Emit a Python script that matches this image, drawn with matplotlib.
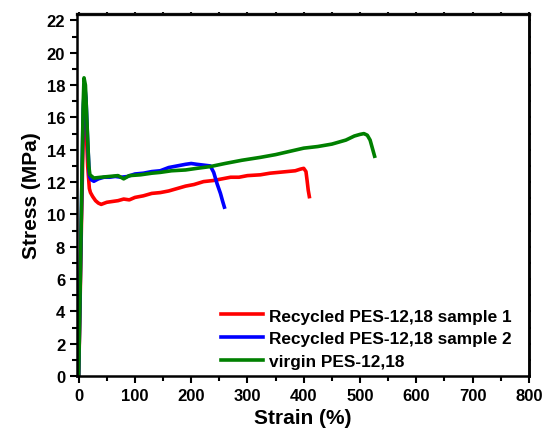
import matplotlib.pyplot as plt
from matplotlib.ticker import MultipleLocator

plt.rcParams['font.family'] = 'Liberation Sans'
plt.rcParams['font.weight'] = 'bold'

# strain (%) / stress (MPa)
strain_r1 = [0, 2, 5, 8, 10.5, 13, 16, 19, 21, 25, 30, 35, 40, 50, 60, 70, 80, 90, 100,
             115, 130, 145, 160, 175, 190, 205, 222, 240, 255, 270, 285, 300, 323, 340,
             355, 370, 385, 394, 400, 404, 406, 408, 410]
stress_r1 = [0, 3.5, 9.5, 14.8, 16.45, 15.6, 13.0, 11.6, 11.35, 11.1, 10.85, 10.7, 10.62,
             10.75, 10.8, 10.85, 10.95, 10.9, 11.05, 11.15, 11.3, 11.35, 11.45, 11.6, 11.75,
             11.85, 12.03, 12.1, 12.2, 12.3, 12.3, 12.4, 12.45, 12.55, 12.6, 12.65, 12.7,
             12.8, 12.85, 12.65, 12.1, 11.5, 11.1]

strain_r2 = [0, 2, 5, 8, 10.5, 13, 16, 19, 22, 27, 35, 45, 55, 65, 75, 86, 100, 115, 130,
             145, 160, 175, 190, 200, 210, 222, 234, 240, 246, 252, 256, 259]
stress_r2 = [0, 4.0, 10.5, 16.5, 18.0, 17.2, 14.5, 12.4, 12.15, 12.05, 12.2, 12.3, 12.3,
             12.35, 12.3, 12.34, 12.5, 12.55, 12.65, 12.7, 12.9, 13.0, 13.1, 13.15, 13.1,
             13.05, 13.0, 12.6, 11.9, 11.3, 10.8, 10.45]

strain_v = [0, 2, 5, 8, 9.5, 12, 15, 18, 20, 27, 40, 55, 70, 80, 90, 110, 130, 145, 165,
            190, 210, 234, 260, 290, 323, 350, 375, 400, 425, 450, 475, 490, 500, 507,
            513, 518, 522, 526]
stress_v = [0, 4.0, 10.5, 16.8, 18.45, 18.0, 15.5, 13.0, 12.45, 12.25, 12.3, 12.35, 12.4,
            12.2, 12.4, 12.45, 12.55, 12.6, 12.7, 12.75, 12.85, 12.96, 13.15, 13.35, 13.53,
            13.7, 13.9, 14.1, 14.2, 14.35, 14.6, 14.85, 14.95, 15.0, 14.9, 14.6, 14.1, 13.6]

labels = ['Recycled PES-12,18 sample 1', 'Recycled PES-12,18 sample 2', 'virgin PES-12,18']
colors = ['#ff0000', '#0000ff', '#008000']

fig = plt.figure(figsize=(5.44, 4.35), dpi=100)
ax = fig.add_axes([0.1415, 0.1333, 0.8305, 0.8322])

ax.plot(strain_r1, stress_r1, color=colors[0], lw=2.6, label=labels[0])
ax.plot(strain_r2, stress_r2, color=colors[1], lw=2.6, label=labels[1])
ax.plot(strain_v, stress_v, color=colors[2], lw=2.6, label=labels[2])

ax.set_xlim(-3, 800)
ax.set_ylim(0, 22.4)
ax.xaxis.set_major_locator(MultipleLocator(100))
ax.xaxis.set_minor_locator(MultipleLocator(50))
ax.yaxis.set_major_locator(MultipleLocator(2))
ax.yaxis.set_minor_locator(MultipleLocator(1))
ax.tick_params(which='both', width=1.5, labelsize=12)
ax.tick_params(which='major', length=5)
ax.tick_params(which='minor', length=3.5)
for s in ax.spines.values():
    s.set_linewidth(1.8)

# tiny unlabelled ticks along the top and right edges
top = ax.secondary_xaxis('top')
top.xaxis.set_major_locator(MultipleLocator(50))
top.tick_params(length=1.5, width=1.5, labeltop=False)
top.spines['top'].set_linewidth(2.4)
top.spines['top'].set_color('#444444')
right = ax.secondary_yaxis('right')
right.yaxis.set_major_locator(MultipleLocator(1))
right.tick_params(length=1.5, width=1.5, labelright=False)
right.spines['right'].set_linewidth(1.8)

ax.set_xlabel('Strain (%)', fontsize=15, fontweight='bold')
ax.set_ylabel('Stress (MPa)', fontsize=15, fontweight='bold')

ax.legend(loc='lower right', frameon=False, fontsize=12.4, handlelength=2.45,
          borderaxespad=0.0, labelspacing=0.45, handletextpad=0.35,
          bbox_to_anchor=(0.977, 0.0))

fig.savefig('out.png', dpi=100)
